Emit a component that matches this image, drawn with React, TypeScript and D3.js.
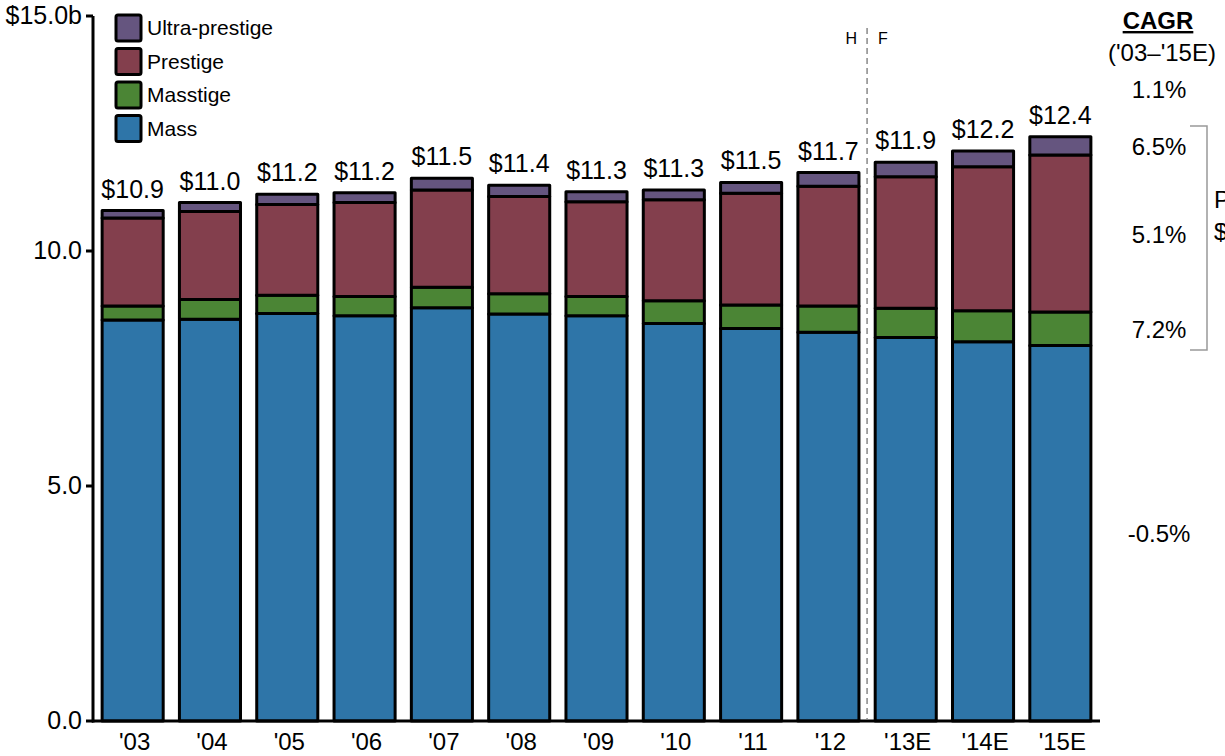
import React, { useEffect, useRef } from 'react';
import * as d3 from 'd3';

const years = ["'03", "'04", "'05", "'06", "'07", "'08", "'09", "'10", "'11", "'12", "'13E", "'14E", "'15E"];
const mass = [8.53, 8.55, 8.67, 8.62, 8.79, 8.66, 8.62, 8.46, 8.35, 8.27, 8.16, 8.07, 7.99];
const masstige = [0.30, 0.42, 0.39, 0.41, 0.44, 0.43, 0.41, 0.48, 0.50, 0.56, 0.62, 0.66, 0.71];
const prestige = [1.87, 1.87, 1.93, 2.00, 2.07, 2.07, 2.02, 2.15, 2.38, 2.55, 2.80, 3.06, 3.34];
const ultra = [0.16, 0.19, 0.22, 0.21, 0.25, 0.24, 0.21, 0.21, 0.23, 0.29, 0.31, 0.34, 0.39];
const totalLabels = ['$10.9', '$11.0', '$11.2', '$11.2', '$11.5', '$11.4', '$11.3', '$11.3', '$11.5', '$11.7', '$11.9', '$12.2', '$12.4'];
const seriesNames = ['Mass', 'Masstige', 'Prestige', 'Ultra-prestige'];
const seriesColors = ['#2E75A8', '#4B8535', '#833F4D', '#65557F'];
const cagr = ['-0.5%', '7.2%', '5.1%', '6.5%'];
const yTicks = [0, 5, 10, 15];
const yTickLabels = ['0.0', '5.0', '10.0', '$15.0b'];

const FONT = '"Liberation Sans", Arial, sans-serif';

const App = () => {
  const ref = useRef<SVGSVGElement>(null);

  useEffect(() => {
    const svg = d3.select(ref.current);
    svg.selectAll('*').remove();

    const x = d3.scaleBand<string>()
      .domain(years)
      .range([94, 1099])
      .paddingInner(0.21)
      .paddingOuter(0.105);

    const y = d3.scaleLinear().domain([0, 15]).range([721, 16]);

    const rows = years.map((yr, i) => ({
      year: yr,
      Mass: mass[i],
      Masstige: masstige[i],
      Prestige: prestige[i],
      'Ultra-prestige': ultra[i],
    }));
    const stacked = d3.stack<any>().keys(seriesNames)(rows);

    // bars
    stacked.forEach((layer, si) => {
      svg.append('g')
        .selectAll('rect')
        .data(layer)
        .enter().append('rect')
        .attr('x', (d: any) => x(d.data.year)!)
        .attr('width', x.bandwidth())
        .attr('y', (d: any) => y(d[1]))
        .attr('height', (d: any) => y(d[0]) - y(d[1]))
        .attr('fill', seriesColors[si])
        .attr('stroke', '#000')
        .attr('stroke-width', 3)
        .attr('stroke-linejoin', 'round');
    });

    // total labels
    const top = stacked[stacked.length - 1];
    svg.append('g')
      .selectAll('text')
      .data(top)
      .enter().append('text')
      .attr('x', (d: any) => x(d.data.year)! + x.bandwidth() / 2)
      .attr('y', (d: any) => y(d[1]) - 13)
      .attr('text-anchor', 'middle')
      .attr('font-family', FONT)
      .attr('font-size', 25)
      .attr('fill', '#000')
      .text((_d, i) => totalLabels[i]);

    // y axis
    svg.append('line')
      .attr('x1', 93).attr('x2', 93)
      .attr('y1', y(15)).attr('y2', y(0) + 1.5)
      .attr('stroke', '#000').attr('stroke-width', 3);
    const yt = svg.append('g');
    yt.selectAll('line')
      .data(yTicks)
      .enter().append('line')
      .attr('x1', 86).attr('x2', 93)
      .attr('y1', d => y(d)).attr('y2', d => y(d))
      .attr('stroke', '#000').attr('stroke-width', 3);
    yt.selectAll('text')
      .data(yTicks)
      .enter().append('text')
      .attr('x', 82)
      .attr('y', d => y(d) + 8)
      .attr('text-anchor', 'end')
      .attr('font-family', FONT)
      .attr('font-size', 25)
      .text((_d, i) => yTickLabels[i]);

    // x axis
    svg.append('line')
      .attr('x1', 92).attr('x2', 1100)
      .attr('y1', y(0)).attr('y2', y(0))
      .attr('stroke', '#000').attr('stroke-width', 3);
    svg.append('g')
      .selectAll('text')
      .data(years)
      .enter().append('text')
      .attr('x', d => x(d)! + x.bandwidth() / 2 + 2)
      .attr('y', 750)
      .attr('text-anchor', 'middle')
      .attr('font-family', FONT)
      .attr('font-size', 24)
      .text(d => d);

    // H / F divider
    const divX = (x("'12")! + x.bandwidth() + x("'13E")!) / 2;
    svg.append('line')
      .attr('x1', divX).attr('x2', divX)
      .attr('y1', 28).attr('y2', y(0) - 2)
      .attr('stroke', '#888').attr('stroke-width', 1.5)
      .attr('stroke-dasharray', '6,4');
    svg.append('text')
      .attr('x', divX - 10).attr('y', 44)
      .attr('text-anchor', 'end')
      .attr('font-family', FONT).attr('font-size', 16)
      .text('H');
    svg.append('text')
      .attr('x', divX + 11).attr('y', 44)
      .attr('font-family', FONT).attr('font-size', 16)
      .text('F');

    // legend
    const legendOrder = [3, 2, 1, 0];
    const lg = svg.append('g');
    legendOrder.forEach((si, k) => {
      const cy = 28 + k * 33.5;
      lg.append('rect')
        .attr('x', 116).attr('y', cy - 13)
        .attr('width', 25).attr('height', 26)
        .attr('rx', 2)
        .attr('fill', seriesColors[si])
        .attr('stroke', '#000').attr('stroke-width', 3);
      lg.append('text')
        .attr('x', 147).attr('y', cy + 7)
        .attr('font-family', FONT).attr('font-size', 21)
        .text(seriesNames[si]);
    });

    // CAGR column
    const cx = 1160;
    svg.append('text')
      .attr('x', cx - 2).attr('y', 29)
      .attr('text-anchor', 'middle')
      .attr('font-family', FONT).attr('font-size', 24)
      .attr('font-weight', 'bold')
      .attr('text-decoration', 'underline')
      .text('CAGR');
    svg.append('text')
      .attr('x', cx + 2).attr('y', 61)
      .attr('text-anchor', 'middle')
      .attr('font-family', FONT).attr('font-size', 24)
      .text("('03\u2013'15E)");
    svg.append('text')
      .attr('x', cx - 1).attr('y', 98)
      .attr('text-anchor', 'middle')
      .attr('font-family', FONT).attr('font-size', 24)
      .text('1.1%');

    const last = years.length - 1;
    svg.append('g')
      .selectAll('text')
      .data(stacked)
      .enter().append('text')
      .attr('x', cx - 1)
      .attr('y', (layer: any) => (y(layer[last][0]) + y(layer[last][1])) / 2 + 9)
      .attr('text-anchor', 'middle')
      .attr('font-family', FONT).attr('font-size', 24)
      .text((_d, i) => cagr[i]);

    // bracket for the non-mass segments
    const bTop = 126;
    const bBot = 350;
    svg.append('path')
      .attr('d', `M1190,${bTop} H1207 V${bBot} H1190`)
      .attr('fill', 'none')
      .attr('stroke', '#999')
      .attr('stroke-width', 1.5);
    svg.append('text')
      .attr('x', 1214).attr('y', 208)
      .attr('font-family', FONT).attr('font-size', 24)
      .text('Premium');
    svg.append('text')
      .attr('x', 1214).attr('y', 240)
      .attr('font-family', FONT).attr('font-size', 24)
      .text('$4.4b');
  }, []);

  return (
    <svg
      ref={ref}
      width={1225}
      height={756}
      style={{ position: 'absolute', left: 0, top: 0, background: '#fff' }}
    />
  );
};

export default App;
